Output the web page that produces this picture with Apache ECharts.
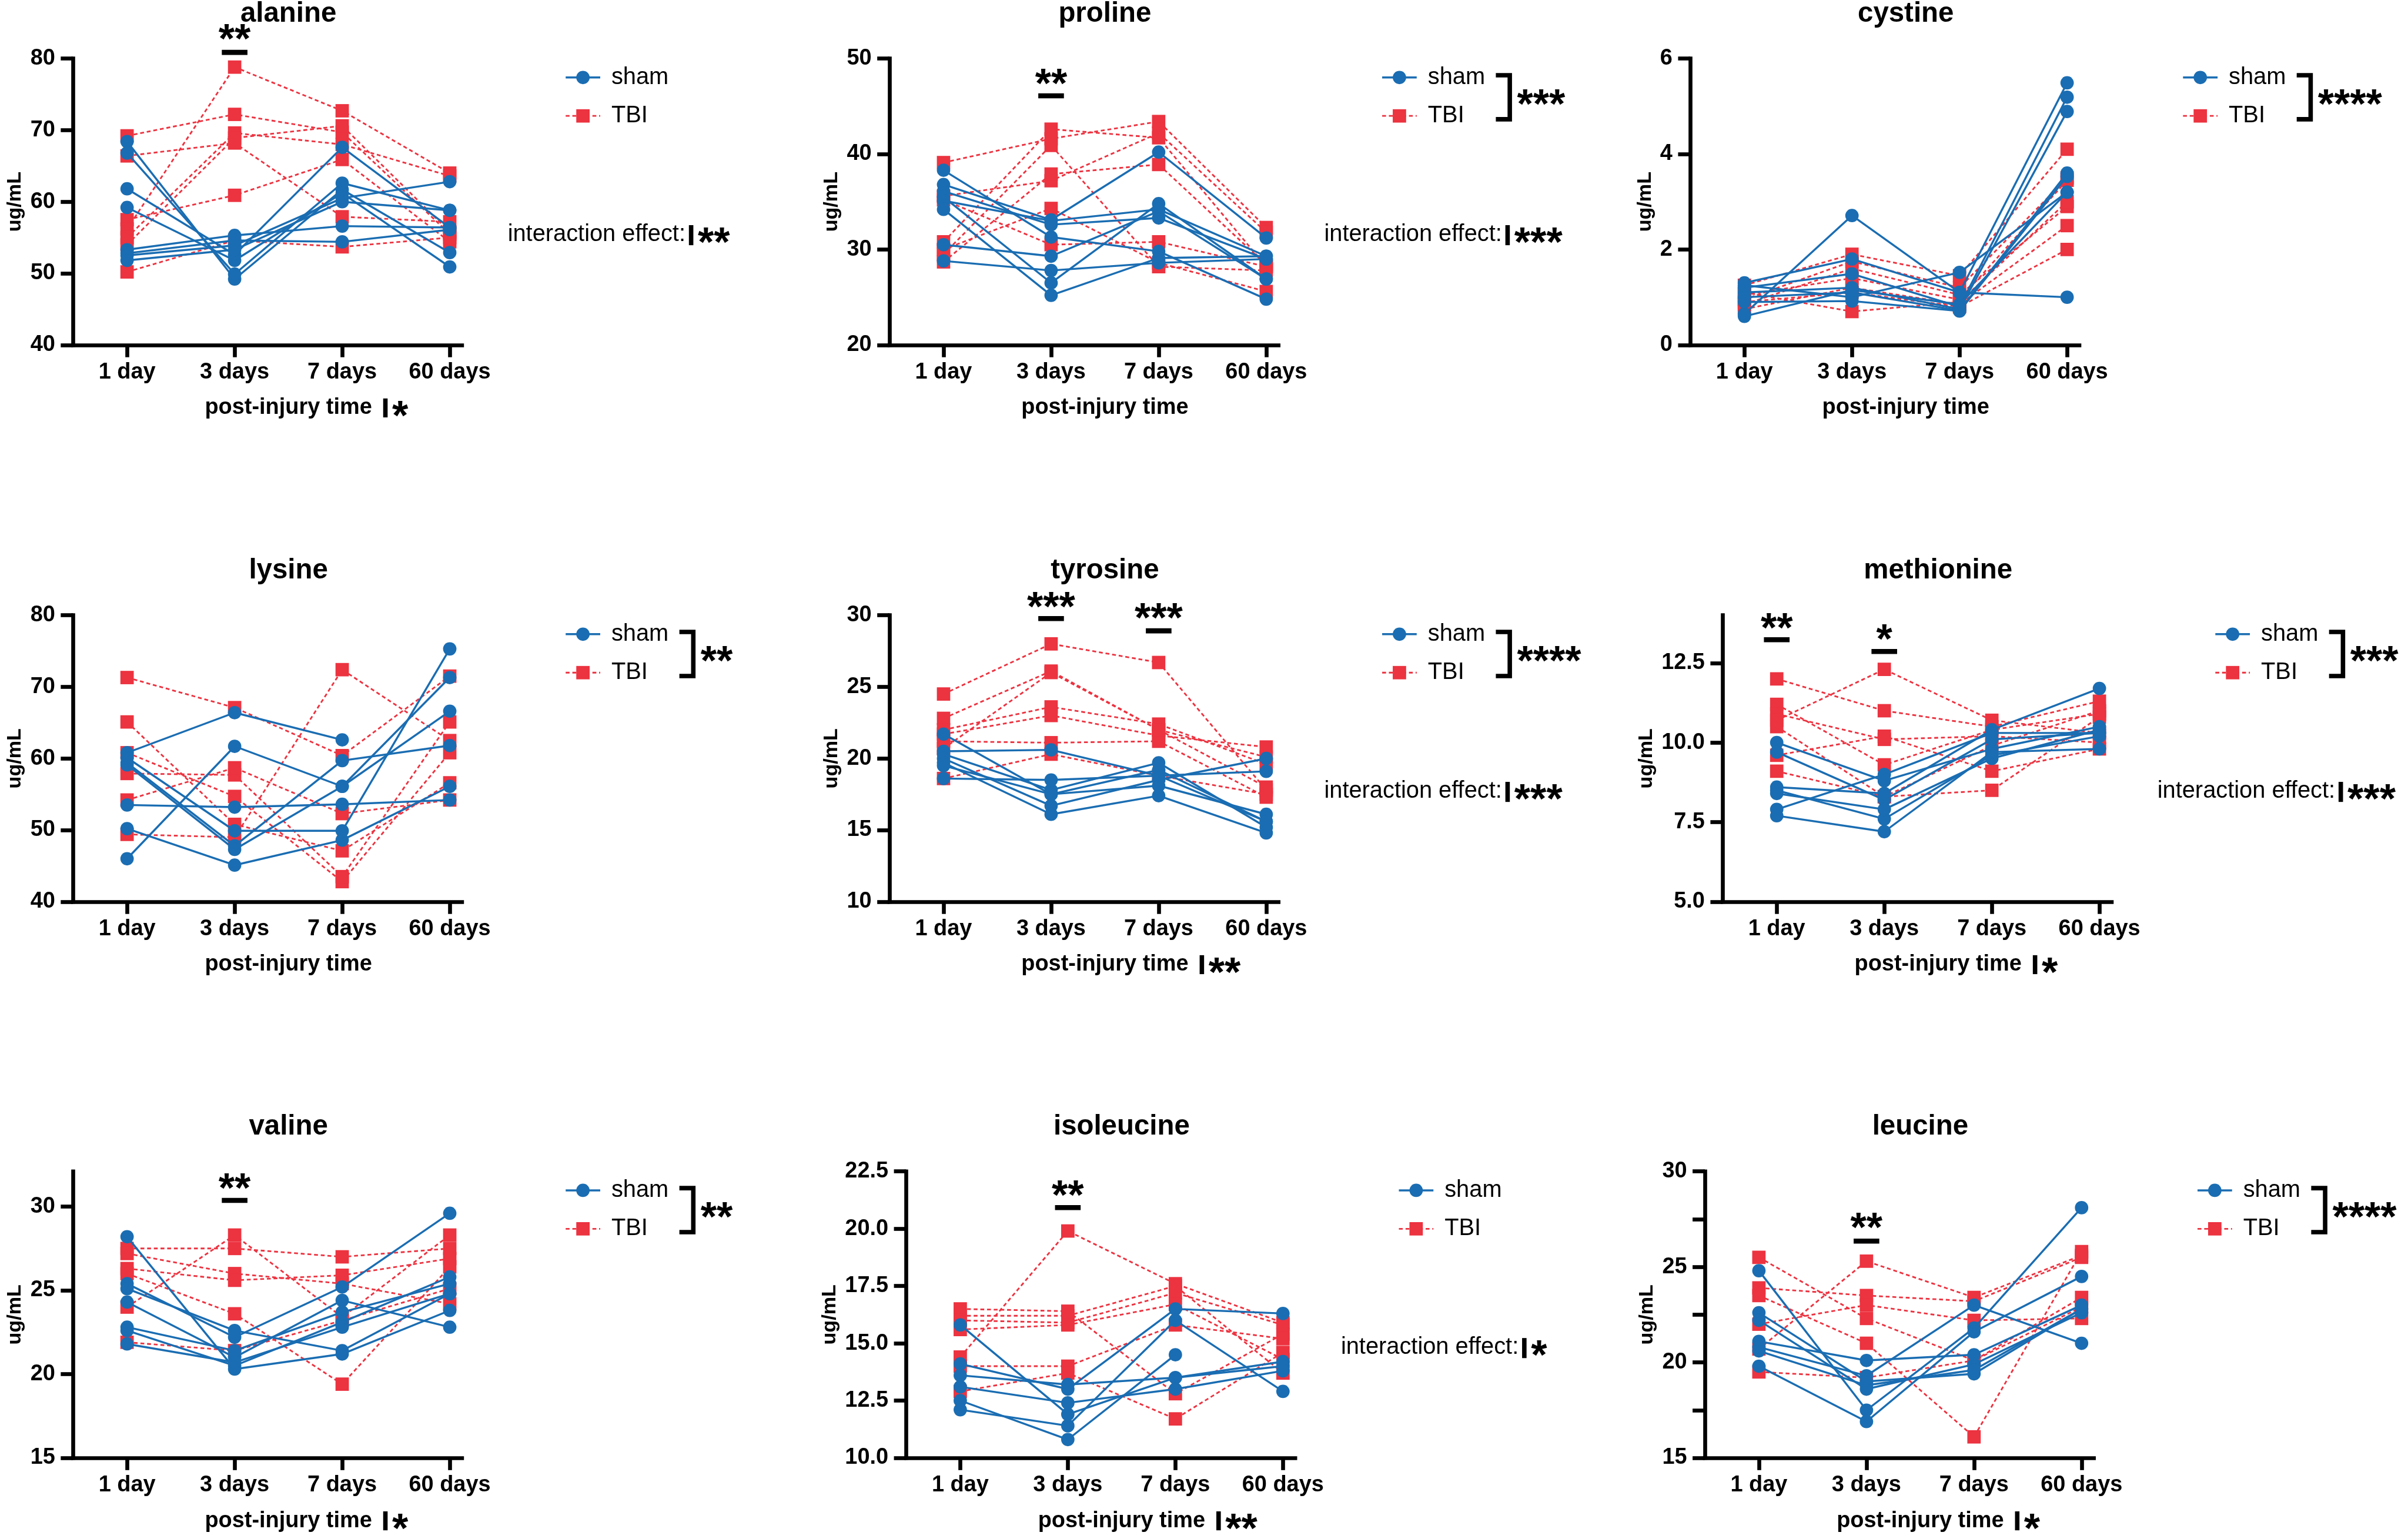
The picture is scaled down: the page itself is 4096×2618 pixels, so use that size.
<!DOCTYPE html>
<html><head><meta charset="utf-8">
<script src="https://cdn.jsdelivr.net/npm/echarts@6/dist/echarts.min.js"></script>
<style>html,body{margin:0;padding:0;background:#fff;}#c{width:4096px;height:2618px;}</style>
</head><body><div id="c"></div>
<script>
// ---------------- DATA ----------------
const categories = ['1 day', '3 days', '7 days', '60 days'];
const panelNames = ['alanine','proline','cystine','lysine','tyrosine','methionine','valine','isoleucine','leucine'];

const alanineSham = [
  [68.4, 49.2, 61.7, 52.9],[66.8, 49.9, 62.6, 58.8],[61.8, 52.6, 67.6, 56.4],[59.2, 51.8, 61.2, 50.9],
  [53.3, 55.3, 56.6, 56.4],[52.8, 54.6, 54.4, 56.1],[52.5, 53.9, 60.5, 62.8],[51.8, 53.3, 60.0, 58.8]];
const alanineTBI = [
  [69.2, 72.2, 69.7, 55.5],[66.4, 68.2, 57.9, 57.2],[57.5, 60.9, 65.9, 54.4],[56.2, 78.8, 72.7, 64.0],
  [55.0, 69.6, 68.0, 63.6],[54.0, 68.9, 70.6, 55.8],[50.2, 54.6, 53.7, 55.0]];
const prolineSham = [
  [38.3, 31.3, 29.8, 24.8],[36.8, 33.1, 40.2, 31.2],[36.1, 32.6, 33.3, 29.0],[35.5, 26.5, 34.8, 26.9],
  [35.1, 33.0, 34.2, 29.3],[34.2, 25.2, 29.1, 29.3],[30.5, 29.3, 34.0, 26.9],[28.8, 27.8, 28.6, 29.0]];
const prolineTBI = [
  [39.1, 41.6, 43.4, 32.3],[35.6, 37.2, 42.2, 31.8],[35.2, 30.5, 30.8, 28.2],[30.8, 42.6, 41.7, 28.2],
  [30.0, 34.3, 28.6, 25.6],[28.7, 37.9, 38.9, 28.4],[29.5, 40.9, 28.2, 27.8]];
const cystineSham = [
  [0.65, 2.71, 1.10, 1.00],[1.30, 1.80, 1.10, 5.49],[1.20, 1.49, 0.80, 5.19],[1.10, 1.20, 0.75, 4.89],
  [1.00, 1.10, 0.72, 3.60],[0.90, 0.92, 0.71, 3.53],[1.25, 1.00, 1.52, 3.20],[0.60, 1.15, 0.85, 3.20]];
const cystineTBI = [
  [1.25, 1.90, 1.45, 4.10],[0.95, 1.75, 1.20, 3.50],[0.85, 1.60, 1.05, 2.90],[1.05, 1.40, 0.95, 3.45],
  [0.75, 1.20, 0.85, 2.50],[0.90, 1.10, 0.80, 2.00],[1.10, 0.70, 0.90, 3.00]];
const lysineSham = [
  [60.8, 66.4, 62.6, null],[46.0, 61.7, 56.1, 71.3],[53.5, 53.2, 53.6, 54.2],[50.2, 45.1, 48.6, 56.1],
  [60.1, 49.9, 49.9, 75.3],[59.4, 47.8, 59.7, 61.8],[59.1, 47.3, 56.1, 66.6]];
const lysineTBI = [
  [71.3, 67.1, 60.4, 71.5],[65.1, 50.8, 47.1, 56.6],[60.8, 54.7, 42.8, 60.8],[57.9, 57.7, 43.5, 65.1],
  [54.2, 58.7, 52.3, 54.2],[49.4, 49.0, 72.4, 62.5]];
const tyrosineSham = [
  [21.7, 17.5, 19.2, 15.6],[20.5, 20.6, 18.8, 19.1],[20.3, 17.8, 19.7, 15.2],[20.0, 16.7, 18.5, 20.0],
  [19.7, 16.1, 17.4, 14.8],[19.5, 17.5, 18.1, 16.1],[18.6, 18.5, 18.8, 15.6]];
const tyrosineTBI = [
  [24.5, 28.0, 26.7, 17.8],[22.8, 26.1, 22.0, 20.1],[22.0, 23.6, 22.4, 19.6],[21.7, 23.0, 21.6, 20.8],
  [21.2, 21.1, 21.2, 17.3],[20.7, 26.0, 22.0, 18.0],[18.6, 20.3, 18.8, 17.5]];
const methionineSham = [
  [10.0, 8.8, 9.8, 10.5],[9.7, 8.2, 10.1, 10.3],[8.6, 8.4, 10.4, 11.7],[8.5, 7.6, 9.6, 10.2],
  [8.4, 7.9, 9.5, 10.4],[7.9, 9.0, 10.3, 10.3],[7.7, 7.2, 9.7, 9.8]];
const methionineTBI = [
  [12.0, 11.0, 10.5, 11.3],[11.2, 9.3, 10.4, 10.9],[10.9, 10.1, 10.2, 10.0],[10.7, 12.3, 10.7, 10.3],
  [10.5, 8.3, 9.9, 11.0],[9.6, 10.2, 9.1, 9.8],[9.1, 8.3, 8.5, 10.8]];
const valineSham = [
  [28.2, 20.3, 21.2, 23.8],[25.4, 22.2, 25.2, 29.6],[25.1, 22.6, 21.4, 24.8],[24.3, 21.0, 24.4, 22.8],
  [22.8, 21.4, 23.7, 25.4],[22.6, 20.5, 23.1, 25.8],[21.8, 20.7, 22.8, 24.8]];
const valineTBI = [
  [27.5, 27.5, 27.0, 27.5],[27.2, 26.0, 25.4, 24.2],[26.3, 25.6, 25.9, 26.9],[26.0, 23.6, 19.4, 26.4],
  [24.0, 28.3, 23.4, 28.3],[21.9, 21.4, 23.2, 25.1]];
const isoleucineSham = [
  [15.8, 11.9, 13.5, 14.0],[14.1, 13.0, 16.5, 16.3],[13.6, 13.2, 13.5, 14.2],[13.1, 12.4, 13.0, 13.8],
  [12.5, 10.8, 14.5, null],[12.1, 11.4, 16.0, 12.9]];
const isoleucineTBI = [
  [14.4, 19.9, 17.6, 15.9],[16.5, 16.4, 12.8, 15.4],[16.2, 16.2, 17.5, 13.7],[16.0, 15.9, 17.2, 15.8],
  [15.6, 15.8, 16.7, 14.3],[14.0, 14.0, 15.8, 15.2],[12.9, 13.7, 11.7, 14.6]];
const leucineSham = [
  [24.8, 17.5, 21.8, 28.1],[22.6, 19.0, 19.4, 22.8],[22.2, 18.6, 19.9, 22.6],[21.1, 20.1, 20.4, 23.0],
  [20.6, 18.8, 19.6, 22.8],[19.8, 16.9, 21.6, 24.5],[20.8, 19.3, 23.0, 21.0]];
const leucineTBI = [
  [25.5, 22.3, 20.1, 23.4],[23.9, 23.5, 23.2, 25.5],[23.5, 21.0, 16.1, 25.8],[22.0, 23.0, 22.2, 22.3],
  [20.7, 25.3, 23.4, 25.6],[19.5, 19.2, 20.1, 22.9]];

const shamData = [alanineSham, prolineSham, cystineSham, lysineSham, tyrosineSham, methionineSham, valineSham, isoleucineSham, leucineSham];
const tbiData  = [alanineTBI, prolineTBI, cystineTBI, lysineTBI, tyrosineTBI, methionineTBI, valineTBI, isoleucineTBI, leucineTBI];

// y-axis tick labels and ranges
const alanineTicks = [40,50,60,70,80];
const prolineTicks = [20,30,40,50];
const cystineTicks = [0,2,4,6];
const lysineTicks = [40,50,60,70,80];
const tyrosineTicks = [10,15,20,25,30];
const methionineTicks = [5,7.5,10,12.5];
const valineTicks = [15,20,25,30];
const isoleucineTicks = [10,12.5,15,17.5,20,22.5];
const leucineTicks = [15,20,25,30];
const leucineMinorTicks = [17.5,22.5,27.5];
const yTicks = [alanineTicks, prolineTicks, cystineTicks, lysineTicks, tyrosineTicks, methionineTicks, valineTicks, isoleucineTicks, leucineTicks];
const yMinor = [[],[],[],[],[],[],[],[],leucineMinorTicks];
const yRanges = [[40,80],[20,50],[0,6],[40,80],[10,30],[5,14],[15,32.1],[10,22.5],[15,30]];
const yDecimals = [0,0,0,0,0,1,0,1,0];

// significance labels
const groupStars = ['', '***', '****', '**', '****', '***', '**', '', '****'];
const interactionStars = ['**', '***', '', '', '***', '***', '', '*', ''];
const timeStars = ['*', '', '', '', '**', '*', '*', '**', '*'];
const pairStarCats = [[1],[1],[],[],[1,2],[0,1],[1],[1],[1]];
const pairStarText = [['**'],['**'],[],[],['***','***'],['**','*'],['**'],['**'],['**']];

// ---------------- LAYOUT (reference px, scaled by S) ----------------
const S = 0.948;
const FONT = "'Liberation Sans', Arial, Helvetica, sans-serif";
const BLUE = '#1A6DB2', RED = '#EC3340';
const AXIS_X = [131,1596,3033,131,1596,3091,131,1626,3059];
const ROW_TOP = [105,1104,2102];
const PLOT_H = 514;
const CAT0 = 97, CAT_STEP = 193, AXIS_TAIL = 22;
const AXIS_LEN = CAT0 + 3*CAT_STEP + AXIS_TAIL;
const PAIR_Y = [[[58,94]],[[138,172]],[],[],[[1077,1110],[1097,1132]],[[1115,1148],[1135,1169]],[[2120,2154]],[[2133,2167]],[[2191,2227]]];
const STAR_F = 74, TICK_F = 40, LEG_F = 42, TITLE_F = 50, UG_F = 36;
const SYM = 24, AXW = 7;

const ctx = document.createElement('canvas').getContext('2d');
function tw(str, size, weight){ ctx.font = `${weight} ${size}px ${FONT}`; return ctx.measureText(str).width; }

const grids = [], xAxes = [], yAxes = [], series = [], g = [];
function txt(x, y, str, size, weight, align, rot){
  const el = {type:'text', x:x*S, y:y*S, silent:true, z:10,
    style:{text:str, fill:'#000', fontSize:size*S, fontWeight:weight, fontFamily:FONT,
      align:align||'left', textAlign:align||'left', verticalAlign:'middle', textVerticalAlign:'middle'}};
  if (rot) el.rotation = rot;
  g.push(el);
}
function stars(x, yc, str, align){ txt(x, yc + 0.22*STAR_F, str, STAR_F, 'bold', align||'left'); }
function rect(x, y, w, h, fill){ g.push({type:'rect', silent:true, z:10, shape:{x:x*S, y:y*S, width:w*S, height:h*S}, style:{fill:fill||'#000'}}); }

panelNames.forEach((name, i) => {
  const row = Math.floor(i/3);
  const ax = AXIS_X[i], top = ROW_TOP[row], bottom = top + PLOT_H;
  const axisLineStyle = {color:'#000', width:AXW*S, cap:'square'};
  grids.push({left:ax*S, top:top*S, width:AXIS_LEN*S, height:PLOT_H*S});
  xAxes.push({gridIndex:i, type:'value', min:-CAT0/CAT_STEP, max:3 + AXIS_TAIL/CAT_STEP,
    axisLine:{show:true, onZero:false, lineStyle:axisLineStyle},
    axisTick:{show:true, customValues:[0,1,2,3], length:22*S, lineStyle:{color:'#000', width:AXW*S}},
    axisLabel:{show:true, customValues:[0,1,2,3], formatter:(v)=>categories[Math.round(v)], margin:29*S,
      fontSize:TICK_F*S, fontWeight:'bold', fontFamily:FONT, color:'#000'},
    splitLine:{show:false}});
  const dec = yDecimals[i];
  yAxes.push({gridIndex:i, type:'value', min:yRanges[i][0], max:yRanges[i][1],
    axisLine:{show:true, onZero:false, lineStyle:axisLineStyle},
    axisTick:{show:true, customValues:yTicks[i].concat(yMinor[i]), length:22*S, lineStyle:{color:'#000', width:AXW*S}},
    axisLabel:{show:true, customValues:yTicks[i], formatter:(v)=>Number(v).toFixed(dec), margin:32*S,
      fontSize:TICK_F*S, fontWeight:'bold', fontFamily:FONT, color:'#000'},
    splitLine:{show:false}});

  tbiData[i].forEach(r => series.push({type:'line', xAxisIndex:i, yAxisIndex:i, animation:false, silent:true, z:2,
    data:r.map((v,j)=>[j, v==null?'-':v]), symbol:'rect', symbolSize:SYM*S, showSymbol:true,
    itemStyle:{color:RED}, lineStyle:{color:RED, width:3*S, type:[7*S,5*S]}}));
  shamData[i].forEach(r => series.push({type:'line', xAxisIndex:i, yAxisIndex:i, animation:false, silent:true, z:3,
    data:r.map((v,j)=>[j, v==null?'-':v]), symbol:'circle', symbolSize:SYM*S, showSymbol:true,
    itemStyle:{color:BLUE}, lineStyle:{color:BLUE, width:3.6*S}}));

  const cx = ax + CAT0 + 1.5*CAT_STEP;
  // title
  txt(cx, top - 80, name, TITLE_F, 'bold', 'center');
  // x-axis name
  const xnY = bottom + 113;
  txt(cx, xnY, 'post-injury time', TICK_F, 'bold', 'center');
  if (timeStars[i]) {
    const bx = cx + tw('post-injury time', TICK_F, 'bold')/2 + 20;
    rect(bx, xnY - 17, 8, 34);
    stars(bx + 16, xnY + 2, timeStars[i]);
  }
  // y-axis name
  const lw = Math.max(...yTicks[i].map(v => tw(Number(v).toFixed(dec), TICK_F, 'bold')));
  txt(ax - lw - 59, (top + bottom)/2, 'ug/mL', UG_F, 'bold', 'center', Math.PI/2);
  // legend
  const shamY = top + 34, tbiY = top + 103, lx = ax + 915;
  g.push({type:'line', silent:true, z:10, shape:{x1:(ax+884)*S, y1:shamY*S, x2:(ax+946)*S, y2:shamY*S}, style:{stroke:BLUE, lineWidth:3.6*S}});
  g.push({type:'circle', silent:true, z:11, shape:{cx:lx*S, cy:shamY*S, r:SYM/2*S}, style:{fill:BLUE}});
  g.push({type:'line', silent:true, z:10, shape:{x1:(ax+884)*S, y1:tbiY*S, x2:(ax+946)*S, y2:tbiY*S}, style:{stroke:RED, lineWidth:3*S, lineDash:[7*S,5*S]}});
  rect(lx - SYM/2, tbiY - SYM/2, SYM, SYM, RED);
  txt(ax + 966, shamY, 'sham', LEG_F, 'normal', 'left');
  txt(ax + 966, tbiY, 'TBI', LEG_F, 'normal', 'left');
  if (groupStars[i]) {
    g.push({type:'polyline', silent:true, z:10, shape:{points:[[(ax+1088)*S,(shamY-4)*S],[(ax+1113)*S,(shamY-4)*S],[(ax+1113)*S,(tbiY+6)*S],[(ax+1088)*S,(tbiY+6)*S]]},
      style:{stroke:'#000', lineWidth:8*S, fill:null}});
    stars(ax + 1126, (shamY + tbiY)/2 + 2, groupStars[i]);
  }
  if (interactionStars[i]) {
    const iy = top + 316;
    txt(ax + 780, iy, 'interaction effect:', LEG_F, 'normal', 'left');
    const bx = ax + 780 + tw('interaction effect:', LEG_F, 'normal') + 6;
    rect(bx, iy - 17, 8, 36);
    stars(bx + 16, iy + 2, interactionStars[i]);
  }
  pairStarCats[i].forEach((k, m) => {
    const px = ax + CAT0 + k*CAT_STEP;
    const [sy, by] = PAIR_Y[i][m];
    stars(px, sy, pairStarText[i][m], 'center');
    rect(px - 23, by - 4.5, 46, 9);
  });
});

const chart = echarts.init(document.getElementById('c'), null, {renderer:'canvas', width:4096, height:2618});
chart.setOption({backgroundColor:'#fff', animation:false, grid:grids, xAxis:xAxes, yAxis:yAxes, series:series, graphic:{elements:g}});
</script></body></html>
